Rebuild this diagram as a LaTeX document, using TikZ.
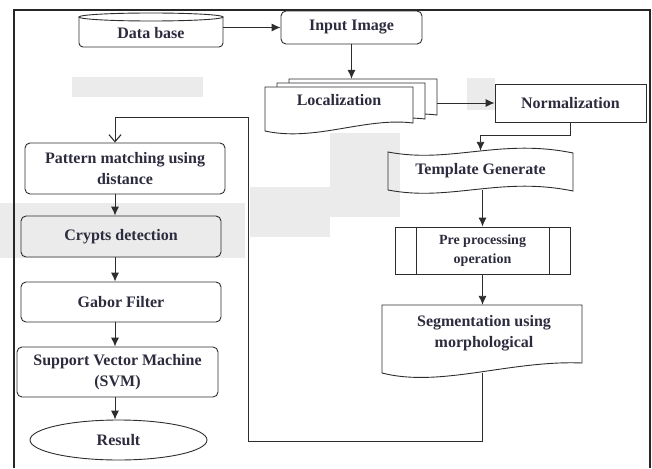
\documentclass[tikz,border=0pt]{standalone}
\usepackage{fontspec}
\setmainfont{Liberation Serif}
\usetikzlibrary{arrows.meta,shapes.geometric}

\definecolor{ink}{RGB}{44,44,62}
\definecolor{edge}{RGB}{45,45,45}
\definecolor{wmark}{RGB}{235,235,235}

\begin{document}
\begin{tikzpicture}[x=1pt,y=-1pt,
  line/.style={draw=edge,line width=0.9pt},
  txt/.style={text=ink,font=\fontsize{16}{21}\selectfont\bfseries,align=center,inner sep=0pt},
  smalltxt/.style={text=ink,font=\fontsize{14}{19}\selectfont\bfseries,align=center,inner sep=0pt},
  rbox/.style={line,rounded corners=5pt},
  sbox/.style={line},
  arr/.style={line,-{Latex[length=9pt,width=8pt]}},
  openarr/.style={line,-{Straight Barb[length=7pt,width=12pt,line width=1.1pt]}},
  frame/.style={draw=black!85,line width=1.6pt}]
\useasboundingbox (0,0) rectangle (652,468);

% faint background watermark blocks
\fill[wmark] (72,77) rectangle (203,97);
\fill[wmark] (0,203) rectangle (245,258);
\fill[wmark] (250,187) rectangle (330,237);
\fill[wmark] (330,133) rectangle (400,217);
\fill[wmark] (467,78) rectangle (495,110);

% outer frame (open at the bottom edge of the page)
\draw[frame] (14,468) -- (14,10) -- (650,10) -- (650,468);

% database cylinder
\draw[line,rounded corners=4pt] (79,17) -- (79,47) -- (223,47) -- (223,17);
\draw[line,fill=white] (151,17) ellipse [x radius=72, y radius=4];
\node[txt,minimum width=144pt,minimum height=28pt] (db) at (151,33) {Data base};

% input image
\node[rbox,txt,minimum width=141pt,minimum height=33pt] (inp) at (351.5,27.5) {Input Image};

% localization: stacked documents
\foreach \dx/\dy in {24/-8,12/-4,0/0}{
  \draw[line,fill=white,shift={(\dx,\dy)}] (265,87) -- (413,87) -- (413,123)
    .. controls (365,117) and (315,142) .. (265,131) -- cycle;
}
\node[inner sep=0pt,minimum width=148pt,minimum height=36pt] (locb) at (363,97) {};
\node[txt] (loc) at (339,100) {Localization};

% normalization
\node[sbox,txt,minimum width=151pt,minimum height=38pt] (nrm) at (570.5,103) {Normalization};

% template generate (punched tape)
\draw[line] (388,152) .. controls (450,164) and (500,138) .. (573,153) -- (573,191)
  .. controls (500,176) and (450,202) .. (388,190) -- cycle;
\node[txt,minimum width=185pt,minimum height=38.5pt] (tpl) at (480.5,170.25) {Template Generate};

% pre processing (predefined process)
\node[sbox,smalltxt,minimum width=175pt,minimum height=47pt] (pre) at (482.5,250.5) {Pre processing\\operation};
\draw[line] ([xshift=22pt]pre.north west) -- ([xshift=22pt]pre.south west);
\draw[line] ([xshift=-21pt]pre.north east) -- ([xshift=-21pt]pre.south east);

% segmentation (document)
\draw[line] (382,305) -- (582,305) -- (582,363) .. controls (510,360) and (440,388) .. (382,373) -- cycle;
\node[inner sep=0pt,minimum width=200pt,minimum height=67.5pt] (seg) at (482,338.75) {};
\node[txt] (segtxt) at (484,333) {Segmentation using\\morphological};

% left column
\node[rbox,txt,minimum width=200pt,minimum height=51pt] (pat) at (125,168.5) {Pattern matching using\\distance};
\node[rbox,txt,minimum width=200pt,minimum height=41pt] (cry) at (121,236.5) {Crypts detection};
\node[rbox,txt,minimum width=200pt,minimum height=40pt] (gab) at (121,302) {Gabor Filter};
\node[rbox,txt,minimum width=201pt,minimum height=50pt] (svm) at (117.5,372) {Support Vector Machine\\(SVM)};
\node[ellipse,line,txt,minimum width=177pt,minimum height=40pt] (res) at (118.5,440) {Result};

% routing points
\coordinate (col) at (115,0);
\coordinate (lb) at (248,441);
\coordinate (lt) at (248,117);

% connectors
\draw[arr] (db.east |- inp.west) -- (inp.west);
\draw[arr] (inp.south) -- (inp.south |- locb.north);
\draw[arr] (locb.east |- nrm.west) -- (nrm.west);
\draw[arr] (nrm.south) -- ++(0,13) -| (tpl.north);
\draw[arr] (pre.north |- tpl.south) -- (pre.north);
\draw[arr] (pre.south) -- (pre.south |- seg.north);
\draw[openarr] (seg.south) |- (lb) -- (lt) -| (pat.north -| col);
\draw[arr] (pat.south -| col) -- (cry.north -| col);
\draw[arr] (cry.south -| col) -- (gab.north -| col);
\draw[arr] (gab.south -| col) -- (svm.north -| col);
\draw[arr] (svm.south -| col) -- (res.north -| col);
\end{tikzpicture}
\end{document}
